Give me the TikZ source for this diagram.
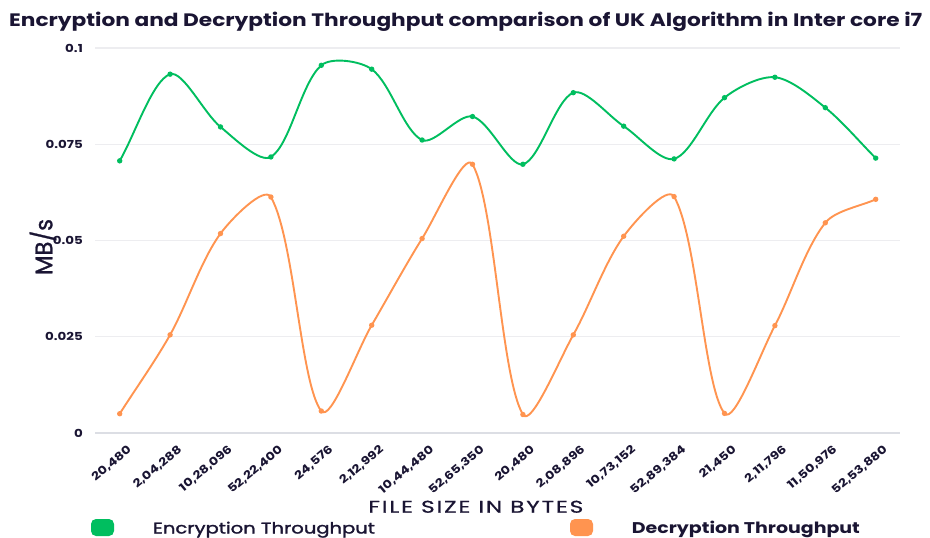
\documentclass[tikz,border=0pt]{standalone}
\usepackage{fontspec}
\setmainfont{Poppins}
\usepackage{graphicx}
\usetikzlibrary{calc}

\definecolor{ink}{HTML}{1A1533}
\definecolor{encgreen}{HTML}{00BE5F}
\definecolor{decorange}{HTML}{FF9450}
\definecolor{gridgray}{HTML}{EDEDF0}
\definecolor{basegray}{HTML}{DCDEE4}

% widen a piece of text along its baseline
\newcommand{\hwide}[1]{\scalebox{1.22}[1]{#1}}

% throughput samples (MB/s), one per file size
\def\encdata{{0.0707,0.0932,0.0795,0.0717,0.0955,0.0945,0.0761,0.0822,0.0698,0.0884,0.0797,0.0712,0.0871,0.0924,0.0845,0.0714}}
\def\decdata{{0.0050,0.0255,0.0518,0.0613,0.0057,0.0280,0.0505,0.0698,0.0048,0.0255,0.0511,0.0614,0.0051,0.0279,0.0546,0.0607}}
\def\curvetension{0.3}

% points and spline handles of one series: #1 name prefix, #2 data array
\newcommand{\buildseries}[2]{%
  \foreach \i in {0,...,15}{%
    \pgfmathtruncatemacro\iprev{max(\i-1,0)}%
    \pgfmathtruncatemacro\inext{min(\i+1,15)}%
    \pgfmathsetmacro\xa{119.7+50.4*\iprev}%
    \pgfmathsetmacro\ya{433-3850*#2[\iprev]}%
    \pgfmathsetmacro\xb{119.7+50.4*\i}%
    \pgfmathsetmacro\yb{433-3850*#2[\i]}%
    \pgfmathsetmacro\xc{119.7+50.4*\inext}%
    \pgfmathsetmacro\yc{433-3850*#2[\inext]}%
    \pgfmathsetmacro\distprev{veclen((\xb)-(\xa),(\yb)-(\ya))}%
    \pgfmathsetmacro\distnext{veclen((\xc)-(\xb),(\yc)-(\yb))}%
    \pgfmathsetmacro\facA{\curvetension*\distprev/(\distprev+\distnext)}%
    \pgfmathsetmacro\facB{\curvetension*\distnext/(\distprev+\distnext)}%
    \coordinate (#1\i) at (\xb,\yb);
    \coordinate (#1a\i) at ({\xb-\facA*((\xc)-(\xa))},{\yb-\facA*((\yc)-(\ya))});
    \coordinate (#1b\i) at ({\xb+\facB*((\xc)-(\xa))},{\yb+\facB*((\yc)-(\ya))});
  }%
}

\begin{document}
\begin{tikzpicture}[x=1pt,y=-1pt,
  gridline/.style={draw=gridgray,line width=1.1pt},
  baseline/.style={draw=basegray,line width=1.6pt},
  ytick/.style={anchor=east,inner sep=0pt,text=ink,font=\fontsize{11}{13}\selectfont\bfseries},
  xtick/.style={anchor=north east,inner sep=0pt,rotate=40,text=ink,font=\fontsize{11.2}{13}\selectfont\bfseries},
  series/.style={line width=1.9pt,line cap=round,line join=round},
  legendkey/.style={rounded corners=5pt},
  legendtext/.style={anchor=base west,inner sep=0pt,text=ink}]

\useasboundingbox (0,0) rectangle (930,538);
\fill[white] (0,0) rectangle (930,538);

% title
\node[anchor=base west,inner sep=0pt,text=ink,font=\fontsize{18}{22}\selectfont\bfseries]
  (title) at (9,26) {\resizebox{913pt}{\height}{Encryption and Decryption Throughput comparison of UK Algorithm in Inter core i7}};

% horizontal grid and value labels
\foreach \v/\lab [count=\k] in {0.025/0.025,0.05/0.05,0.075/0.075,0.1/0.1}{
  \draw[gridline] (95,{433-3850*\v}) -- (900,{433-3850*\v});
  \node[ytick] (ytick\k) at (83,{433-3850*\v}) {\hwide{\lab}};
}
\draw[baseline] (95,433) -- (900,433);
\node[ytick] (ytick0) at (83,433) {\hwide{0}};

% axis titles
\node[rotate=90,inner sep=0pt,text=ink,font=\fontsize{24}{28}\selectfont\addfontfeatures{FakeBold=1.2}]
  (ytitle) at (43,247) {\resizebox{56pt}{\height}{MB/s}};
\node[anchor=base,inner sep=0pt,text=ink,font=\fontsize{17}{20}\selectfont\addfontfeatures{LetterSpace=8,FakeBold=0.6}]
  (xtitle) at (475.8,512.7) {\resizebox{215pt}{\height}{FILE SIZE IN BYTES}};

% file size labels
\foreach \lab [count=\k from 0] in {{20,480},{2,04,288},{10,28,096},{52,22,400},{24,576},{2,12,992},{10,44,480},{52,65,350},{20,480},{2,08,896},{10,73,152},{52,89,384},{21,450},{2,11,796},{11,50,976},{52,53,880}}{
  \node[xtick] (xtick\k) at ({119.7+50.4*\k+7},444) {\hwide{\lab}};
}

% data series
\buildseries{e}{\encdata}
\buildseries{d}{\decdata}

\draw[series,encgreen] (e0) \foreach \i [count=\j] in {0,...,14} { .. controls (eb\i) and (ea\j) .. (e\j) };
\draw[series,decorange] (d0) \foreach \i [count=\j] in {0,...,14} { .. controls (db\i) and (da\j) .. (d\j) };
\foreach \i in {0,...,15}{
  \fill[encgreen] (e\i) circle[radius=2.7];
  \fill[decorange] (d\i) circle[radius=2.7];
}

% legend
\fill[encgreen,legendkey] (91,519) rectangle (114,536);
\node[legendtext,font=\fontsize{15.5}{18}\selectfont\addfontfeatures{FakeBold=1.5}] (enclegend) at (152.7,533.5)
  {\resizebox{222pt}{\height}{Encryption Throughput}};
\fill[decorange,legendkey] (570,519) rectangle (593,536);
\node[legendtext,font=\fontsize{15.5}{18}\selectfont\bfseries] (declegend) at (631.7,533.5)
  {\resizebox{228pt}{\height}{Decryption Throughput}};
\end{tikzpicture}
\end{document}
